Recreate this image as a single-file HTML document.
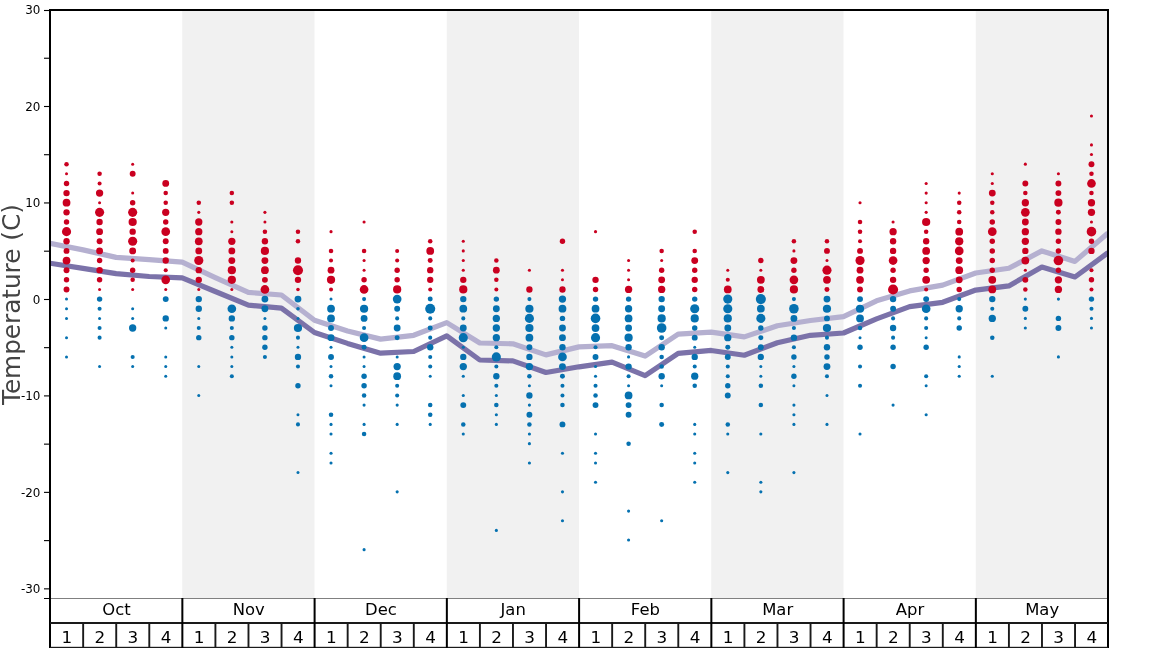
<!DOCTYPE html>
<html lang="en"><head><meta charset="utf-8"><title>Temperature chart</title>
<style>html,body{margin:0;padding:0;background:#fff;}body{width:1168px;height:648px;overflow:hidden;}svg{display:block;}text{font-family:"DejaVu Sans", "Liberation Sans", sans-serif;}</style></head><body>
<svg width="1168" height="648" viewBox="0 0 1168 648">
<rect x="0" y="0" width="1168" height="648" fill="#fff"/>
<g fill="#f1f1f1">
<rect x="182.25" y="10" width="132.25" height="588"/>
<rect x="446.75" y="10" width="132.25" height="588"/>
<rect x="711.25" y="10" width="132.25" height="588"/>
<rect x="975.75" y="10" width="132.25" height="588"/>
</g>
<clipPath id="ax"><rect x="50" y="10" width="1058" height="588.5"/></clipPath>
<polyline clip-path="url(#ax)" points="50.00,243.30 83.06,249.90 116.12,257.40 149.19,259.70 182.25,262.10 215.31,277.60 248.38,292.40 281.44,295.00 314.50,320.30 347.56,331.00 380.62,339.10 413.69,335.30 446.75,322.65 479.81,343.00 512.88,343.80 545.94,354.90 579.00,346.90 612.06,345.70 645.12,356.10 678.19,334.10 711.25,332.10 744.31,336.90 777.38,325.70 810.44,320.50 843.50,316.60 876.56,300.80 909.62,290.90 942.69,285.10 975.75,272.95 1008.81,268.30 1041.88,250.90 1074.94,261.40 1108.00,233.00" fill="none" stroke="#b5b0d0" stroke-width="5.2" stroke-linejoin="round" stroke-linecap="butt"/>
<polyline clip-path="url(#ax)" points="50.00,263.20 83.06,268.40 116.12,273.60 149.19,276.50 182.25,277.80 215.31,291.50 248.38,305.10 281.44,308.10 314.50,332.50 347.56,343.40 380.62,353.20 413.69,351.50 446.75,335.95 479.81,360.00 512.88,360.90 545.94,372.50 579.00,366.80 612.06,362.20 645.12,375.60 678.19,353.30 711.25,350.45 744.31,355.20 777.38,342.70 810.44,335.30 843.50,333.00 876.56,318.90 909.62,306.60 942.69,302.30 975.75,290.05 1008.81,285.90 1041.88,267.10 1074.94,277.00 1108.00,252.70" fill="none" stroke="#7b72a9" stroke-width="5.2" stroke-linejoin="round" stroke-linecap="butt"/>
<g fill="#ca0020"><circle cx="66.53" cy="164.18" r="2.26"/><circle cx="66.53" cy="173.81" r="1.50"/><circle cx="66.53" cy="183.45" r="2.72"/><circle cx="66.53" cy="193.09" r="3.18"/><circle cx="66.53" cy="202.73" r="3.88"/><circle cx="66.53" cy="212.36" r="3.18"/><circle cx="66.53" cy="222.00" r="2.72"/><circle cx="66.53" cy="231.64" r="4.57"/><circle cx="66.53" cy="241.28" r="3.18"/><circle cx="66.53" cy="250.91" r="2.95"/><circle cx="66.53" cy="260.55" r="3.88"/><circle cx="66.53" cy="270.19" r="2.95"/><circle cx="66.53" cy="279.83" r="2.72"/><circle cx="66.53" cy="289.46" r="2.95"/><circle cx="99.59" cy="173.81" r="2.26"/><circle cx="99.59" cy="183.45" r="2.03"/><circle cx="99.59" cy="193.09" r="3.65"/><circle cx="99.59" cy="202.73" r="1.50"/><circle cx="99.59" cy="212.36" r="4.57"/><circle cx="99.59" cy="222.00" r="3.18"/><circle cx="99.59" cy="231.64" r="3.42"/><circle cx="99.59" cy="241.28" r="2.95"/><circle cx="99.59" cy="250.91" r="3.42"/><circle cx="99.59" cy="260.55" r="2.72"/><circle cx="99.59" cy="270.19" r="3.18"/><circle cx="99.59" cy="279.83" r="2.72"/><circle cx="99.59" cy="289.46" r="1.50"/><circle cx="132.66" cy="164.18" r="1.50"/><circle cx="132.66" cy="173.81" r="2.95"/><circle cx="132.66" cy="193.09" r="1.50"/><circle cx="132.66" cy="202.73" r="2.72"/><circle cx="132.66" cy="212.36" r="4.57"/><circle cx="132.66" cy="222.00" r="4.11"/><circle cx="132.66" cy="231.64" r="3.18"/><circle cx="132.66" cy="241.28" r="4.57"/><circle cx="132.66" cy="250.91" r="3.42"/><circle cx="132.66" cy="260.55" r="2.03"/><circle cx="132.66" cy="270.19" r="2.72"/><circle cx="132.66" cy="279.83" r="2.26"/><circle cx="132.66" cy="289.46" r="1.50"/><circle cx="165.72" cy="183.45" r="3.42"/><circle cx="165.72" cy="193.09" r="2.26"/><circle cx="165.72" cy="202.73" r="2.26"/><circle cx="165.72" cy="212.36" r="3.65"/><circle cx="165.72" cy="222.00" r="2.72"/><circle cx="165.72" cy="231.64" r="4.34"/><circle cx="165.72" cy="241.28" r="2.95"/><circle cx="165.72" cy="250.91" r="2.95"/><circle cx="165.72" cy="260.55" r="3.18"/><circle cx="165.72" cy="270.19" r="2.03"/><circle cx="165.72" cy="279.83" r="4.34"/><circle cx="165.72" cy="289.46" r="1.50"/><circle cx="198.78" cy="202.73" r="2.26"/><circle cx="198.78" cy="212.36" r="1.56"/><circle cx="198.78" cy="222.00" r="3.65"/><circle cx="198.78" cy="231.64" r="3.65"/><circle cx="198.78" cy="241.28" r="3.88"/><circle cx="198.78" cy="250.91" r="3.42"/><circle cx="198.78" cy="260.55" r="4.57"/><circle cx="198.78" cy="270.19" r="3.18"/><circle cx="198.78" cy="279.83" r="3.18"/><circle cx="198.78" cy="289.46" r="1.50"/><circle cx="231.84" cy="193.09" r="2.26"/><circle cx="231.84" cy="202.73" r="2.26"/><circle cx="231.84" cy="222.00" r="1.56"/><circle cx="231.84" cy="231.64" r="1.50"/><circle cx="231.84" cy="241.28" r="3.65"/><circle cx="231.84" cy="250.91" r="3.42"/><circle cx="231.84" cy="260.55" r="3.42"/><circle cx="231.84" cy="270.19" r="4.11"/><circle cx="231.84" cy="279.83" r="4.11"/><circle cx="231.84" cy="289.46" r="1.50"/><circle cx="264.91" cy="212.36" r="1.56"/><circle cx="264.91" cy="222.00" r="1.50"/><circle cx="264.91" cy="231.64" r="2.26"/><circle cx="264.91" cy="241.28" r="3.18"/><circle cx="264.91" cy="250.91" r="4.11"/><circle cx="264.91" cy="260.55" r="3.42"/><circle cx="264.91" cy="270.19" r="3.88"/><circle cx="264.91" cy="279.83" r="2.95"/><circle cx="264.91" cy="289.46" r="4.34"/><circle cx="297.97" cy="231.64" r="2.26"/><circle cx="297.97" cy="241.28" r="2.26"/><circle cx="297.97" cy="260.55" r="3.18"/><circle cx="297.97" cy="270.19" r="5.04"/><circle cx="297.97" cy="279.83" r="3.18"/><circle cx="297.97" cy="289.46" r="1.80"/><circle cx="331.03" cy="231.64" r="1.56"/><circle cx="331.03" cy="250.91" r="2.26"/><circle cx="331.03" cy="260.55" r="2.03"/><circle cx="331.03" cy="270.19" r="3.42"/><circle cx="331.03" cy="279.83" r="4.11"/><circle cx="331.03" cy="289.46" r="2.03"/><circle cx="364.09" cy="222.00" r="1.56"/><circle cx="364.09" cy="250.91" r="2.26"/><circle cx="364.09" cy="260.55" r="1.56"/><circle cx="364.09" cy="270.19" r="1.50"/><circle cx="364.09" cy="279.83" r="2.72"/><circle cx="364.09" cy="289.46" r="4.34"/><circle cx="397.16" cy="250.91" r="2.03"/><circle cx="397.16" cy="260.55" r="2.03"/><circle cx="397.16" cy="270.19" r="2.72"/><circle cx="397.16" cy="279.83" r="2.72"/><circle cx="397.16" cy="289.46" r="4.11"/><circle cx="430.22" cy="241.28" r="2.26"/><circle cx="430.22" cy="250.91" r="3.88"/><circle cx="430.22" cy="260.55" r="2.49"/><circle cx="430.22" cy="270.19" r="3.18"/><circle cx="430.22" cy="279.83" r="3.18"/><circle cx="430.22" cy="289.46" r="2.03"/><circle cx="463.28" cy="241.28" r="1.56"/><circle cx="463.28" cy="250.91" r="1.56"/><circle cx="463.28" cy="260.55" r="1.56"/><circle cx="463.28" cy="270.19" r="1.56"/><circle cx="463.28" cy="279.83" r="3.18"/><circle cx="463.28" cy="289.46" r="4.11"/><circle cx="496.34" cy="260.55" r="2.26"/><circle cx="496.34" cy="270.19" r="3.42"/><circle cx="496.34" cy="279.83" r="2.26"/><circle cx="496.34" cy="289.46" r="2.03"/><circle cx="529.41" cy="270.19" r="1.56"/><circle cx="529.41" cy="289.46" r="3.18"/><circle cx="562.47" cy="241.28" r="2.72"/><circle cx="562.47" cy="270.19" r="1.56"/><circle cx="562.47" cy="279.83" r="1.50"/><circle cx="562.47" cy="289.46" r="3.18"/><circle cx="595.53" cy="231.64" r="1.56"/><circle cx="595.53" cy="279.83" r="3.18"/><circle cx="595.53" cy="289.46" r="2.72"/><circle cx="628.59" cy="260.55" r="1.56"/><circle cx="628.59" cy="270.19" r="1.50"/><circle cx="628.59" cy="279.83" r="1.50"/><circle cx="628.59" cy="289.46" r="3.65"/><circle cx="661.66" cy="250.91" r="2.26"/><circle cx="661.66" cy="260.55" r="1.50"/><circle cx="661.66" cy="270.19" r="2.72"/><circle cx="661.66" cy="279.83" r="3.42"/><circle cx="661.66" cy="289.46" r="3.65"/><circle cx="694.72" cy="231.64" r="2.26"/><circle cx="694.72" cy="250.91" r="2.26"/><circle cx="694.72" cy="260.55" r="3.42"/><circle cx="694.72" cy="270.19" r="2.72"/><circle cx="694.72" cy="279.83" r="3.18"/><circle cx="694.72" cy="289.46" r="2.72"/><circle cx="727.78" cy="270.19" r="1.50"/><circle cx="727.78" cy="279.83" r="2.03"/><circle cx="727.78" cy="289.46" r="3.88"/><circle cx="760.84" cy="260.55" r="2.72"/><circle cx="760.84" cy="270.19" r="1.50"/><circle cx="760.84" cy="279.83" r="3.88"/><circle cx="760.84" cy="289.46" r="3.42"/><circle cx="793.91" cy="241.28" r="2.26"/><circle cx="793.91" cy="250.91" r="1.56"/><circle cx="793.91" cy="260.55" r="3.42"/><circle cx="793.91" cy="270.19" r="2.72"/><circle cx="793.91" cy="279.83" r="4.34"/><circle cx="793.91" cy="289.46" r="4.11"/><circle cx="826.97" cy="241.28" r="2.26"/><circle cx="826.97" cy="250.91" r="2.95"/><circle cx="826.97" cy="260.55" r="1.50"/><circle cx="826.97" cy="270.19" r="4.57"/><circle cx="826.97" cy="279.83" r="3.88"/><circle cx="826.97" cy="289.46" r="2.49"/><circle cx="860.03" cy="202.73" r="1.56"/><circle cx="860.03" cy="222.00" r="2.26"/><circle cx="860.03" cy="231.64" r="2.26"/><circle cx="860.03" cy="241.28" r="2.03"/><circle cx="860.03" cy="250.91" r="2.95"/><circle cx="860.03" cy="260.55" r="4.57"/><circle cx="860.03" cy="270.19" r="3.42"/><circle cx="860.03" cy="279.83" r="3.88"/><circle cx="860.03" cy="289.46" r="2.95"/><circle cx="893.09" cy="222.00" r="1.56"/><circle cx="893.09" cy="231.64" r="3.65"/><circle cx="893.09" cy="241.28" r="3.18"/><circle cx="893.09" cy="250.91" r="3.18"/><circle cx="893.09" cy="260.55" r="4.34"/><circle cx="893.09" cy="270.19" r="2.72"/><circle cx="893.09" cy="279.83" r="3.18"/><circle cx="893.09" cy="289.46" r="5.04"/><circle cx="926.16" cy="183.45" r="1.56"/><circle cx="926.16" cy="193.09" r="1.56"/><circle cx="926.16" cy="202.73" r="1.56"/><circle cx="926.16" cy="212.36" r="1.56"/><circle cx="926.16" cy="222.00" r="4.11"/><circle cx="926.16" cy="231.64" r="2.26"/><circle cx="926.16" cy="241.28" r="3.18"/><circle cx="926.16" cy="250.91" r="3.88"/><circle cx="926.16" cy="260.55" r="3.65"/><circle cx="926.16" cy="270.19" r="2.72"/><circle cx="926.16" cy="279.83" r="3.88"/><circle cx="926.16" cy="289.46" r="2.03"/><circle cx="959.22" cy="193.09" r="1.56"/><circle cx="959.22" cy="202.73" r="2.26"/><circle cx="959.22" cy="212.36" r="2.26"/><circle cx="959.22" cy="222.00" r="2.26"/><circle cx="959.22" cy="231.64" r="3.88"/><circle cx="959.22" cy="241.28" r="4.11"/><circle cx="959.22" cy="250.91" r="4.34"/><circle cx="959.22" cy="260.55" r="3.42"/><circle cx="959.22" cy="270.19" r="3.88"/><circle cx="959.22" cy="279.83" r="3.42"/><circle cx="959.22" cy="289.46" r="2.72"/><circle cx="992.28" cy="173.81" r="1.56"/><circle cx="992.28" cy="183.45" r="1.56"/><circle cx="992.28" cy="193.09" r="3.42"/><circle cx="992.28" cy="202.73" r="2.26"/><circle cx="992.28" cy="212.36" r="2.26"/><circle cx="992.28" cy="222.00" r="2.72"/><circle cx="992.28" cy="231.64" r="4.34"/><circle cx="992.28" cy="241.28" r="2.72"/><circle cx="992.28" cy="250.91" r="2.72"/><circle cx="992.28" cy="260.55" r="2.72"/><circle cx="992.28" cy="270.19" r="2.72"/><circle cx="992.28" cy="279.83" r="3.88"/><circle cx="992.28" cy="289.46" r="3.88"/><circle cx="1025.34" cy="164.18" r="1.56"/><circle cx="1025.34" cy="183.45" r="2.95"/><circle cx="1025.34" cy="193.09" r="2.26"/><circle cx="1025.34" cy="202.73" r="3.65"/><circle cx="1025.34" cy="212.36" r="4.34"/><circle cx="1025.34" cy="222.00" r="3.42"/><circle cx="1025.34" cy="231.64" r="3.65"/><circle cx="1025.34" cy="241.28" r="3.65"/><circle cx="1025.34" cy="250.91" r="3.18"/><circle cx="1025.34" cy="260.55" r="3.88"/><circle cx="1025.34" cy="270.19" r="1.56"/><circle cx="1025.34" cy="279.83" r="2.95"/><circle cx="1025.34" cy="289.46" r="2.26"/><circle cx="1058.41" cy="173.81" r="1.56"/><circle cx="1058.41" cy="183.45" r="2.95"/><circle cx="1058.41" cy="193.09" r="2.95"/><circle cx="1058.41" cy="202.73" r="4.11"/><circle cx="1058.41" cy="212.36" r="2.49"/><circle cx="1058.41" cy="222.00" r="2.95"/><circle cx="1058.41" cy="231.64" r="3.18"/><circle cx="1058.41" cy="241.28" r="2.72"/><circle cx="1058.41" cy="250.91" r="2.72"/><circle cx="1058.41" cy="260.55" r="4.80"/><circle cx="1058.41" cy="270.19" r="2.72"/><circle cx="1058.41" cy="279.83" r="3.65"/><circle cx="1058.41" cy="289.46" r="3.65"/><circle cx="1091.47" cy="115.99" r="1.56"/><circle cx="1091.47" cy="144.90" r="1.56"/><circle cx="1091.47" cy="154.54" r="1.56"/><circle cx="1091.47" cy="164.18" r="2.95"/><circle cx="1091.47" cy="173.81" r="2.26"/><circle cx="1091.47" cy="183.45" r="4.34"/><circle cx="1091.47" cy="193.09" r="2.26"/><circle cx="1091.47" cy="202.73" r="3.65"/><circle cx="1091.47" cy="212.36" r="3.65"/><circle cx="1091.47" cy="222.00" r="1.56"/><circle cx="1091.47" cy="231.64" r="4.80"/><circle cx="1091.47" cy="241.28" r="2.72"/><circle cx="1091.47" cy="250.91" r="3.18"/><circle cx="1091.47" cy="270.19" r="2.03"/><circle cx="1091.47" cy="279.83" r="2.72"/><circle cx="1091.47" cy="289.46" r="2.03"/></g>
<g fill="#0571b0"><circle cx="66.53" cy="299.10" r="1.50"/><circle cx="66.53" cy="308.74" r="1.50"/><circle cx="66.53" cy="318.38" r="1.50"/><circle cx="66.53" cy="337.65" r="1.50"/><circle cx="66.53" cy="356.93" r="1.50"/><circle cx="99.59" cy="299.10" r="2.72"/><circle cx="99.59" cy="308.74" r="2.03"/><circle cx="99.59" cy="318.38" r="1.50"/><circle cx="99.59" cy="328.01" r="2.03"/><circle cx="99.59" cy="337.65" r="2.03"/><circle cx="99.59" cy="366.56" r="1.50"/><circle cx="132.66" cy="308.74" r="1.50"/><circle cx="132.66" cy="318.38" r="1.50"/><circle cx="132.66" cy="328.01" r="3.65"/><circle cx="132.66" cy="356.93" r="2.03"/><circle cx="132.66" cy="366.56" r="1.50"/><circle cx="165.72" cy="299.10" r="2.95"/><circle cx="165.72" cy="318.38" r="3.18"/><circle cx="165.72" cy="328.01" r="1.50"/><circle cx="165.72" cy="356.93" r="1.50"/><circle cx="165.72" cy="366.56" r="1.50"/><circle cx="165.72" cy="376.20" r="1.50"/><circle cx="198.78" cy="299.10" r="3.18"/><circle cx="198.78" cy="308.74" r="3.18"/><circle cx="198.78" cy="318.38" r="1.50"/><circle cx="198.78" cy="328.01" r="2.03"/><circle cx="198.78" cy="337.65" r="2.72"/><circle cx="198.78" cy="366.56" r="1.50"/><circle cx="198.78" cy="395.48" r="1.50"/><circle cx="231.84" cy="308.74" r="4.34"/><circle cx="231.84" cy="318.38" r="3.18"/><circle cx="231.84" cy="328.01" r="2.03"/><circle cx="231.84" cy="337.65" r="2.72"/><circle cx="231.84" cy="347.29" r="1.50"/><circle cx="231.84" cy="356.93" r="1.50"/><circle cx="231.84" cy="366.56" r="1.50"/><circle cx="231.84" cy="376.20" r="2.03"/><circle cx="264.91" cy="299.10" r="3.42"/><circle cx="264.91" cy="308.74" r="3.42"/><circle cx="264.91" cy="318.38" r="1.50"/><circle cx="264.91" cy="328.01" r="2.72"/><circle cx="264.91" cy="337.65" r="2.72"/><circle cx="264.91" cy="347.29" r="2.72"/><circle cx="264.91" cy="356.93" r="2.03"/><circle cx="297.97" cy="299.10" r="3.42"/><circle cx="297.97" cy="308.74" r="1.80"/><circle cx="297.97" cy="318.38" r="1.50"/><circle cx="297.97" cy="328.01" r="4.11"/><circle cx="297.97" cy="337.65" r="2.03"/><circle cx="297.97" cy="347.29" r="1.50"/><circle cx="297.97" cy="356.93" r="3.18"/><circle cx="297.97" cy="366.56" r="2.03"/><circle cx="297.97" cy="385.84" r="2.72"/><circle cx="297.97" cy="414.75" r="1.50"/><circle cx="297.97" cy="424.39" r="2.03"/><circle cx="297.97" cy="472.58" r="1.50"/><circle cx="331.03" cy="299.10" r="1.50"/><circle cx="331.03" cy="308.74" r="3.88"/><circle cx="331.03" cy="318.38" r="3.88"/><circle cx="331.03" cy="328.01" r="2.95"/><circle cx="331.03" cy="337.65" r="3.42"/><circle cx="331.03" cy="347.29" r="1.50"/><circle cx="331.03" cy="356.93" r="2.95"/><circle cx="331.03" cy="366.56" r="1.50"/><circle cx="331.03" cy="376.20" r="2.26"/><circle cx="331.03" cy="385.84" r="1.50"/><circle cx="331.03" cy="414.75" r="2.26"/><circle cx="331.03" cy="424.39" r="1.56"/><circle cx="331.03" cy="434.02" r="1.56"/><circle cx="331.03" cy="453.30" r="1.56"/><circle cx="331.03" cy="462.94" r="1.56"/><circle cx="364.09" cy="299.10" r="2.03"/><circle cx="364.09" cy="308.74" r="4.11"/><circle cx="364.09" cy="318.38" r="3.42"/><circle cx="364.09" cy="328.01" r="2.03"/><circle cx="364.09" cy="337.65" r="4.34"/><circle cx="364.09" cy="347.29" r="2.49"/><circle cx="364.09" cy="356.93" r="1.50"/><circle cx="364.09" cy="366.56" r="1.50"/><circle cx="364.09" cy="376.20" r="2.72"/><circle cx="364.09" cy="385.84" r="2.72"/><circle cx="364.09" cy="395.48" r="2.26"/><circle cx="364.09" cy="405.11" r="1.56"/><circle cx="364.09" cy="424.39" r="1.56"/><circle cx="364.09" cy="434.02" r="2.26"/><circle cx="364.09" cy="549.67" r="1.56"/><circle cx="397.16" cy="299.10" r="4.34"/><circle cx="397.16" cy="308.74" r="2.95"/><circle cx="397.16" cy="318.38" r="2.03"/><circle cx="397.16" cy="328.01" r="3.42"/><circle cx="397.16" cy="337.65" r="2.49"/><circle cx="397.16" cy="356.93" r="1.50"/><circle cx="397.16" cy="366.56" r="3.65"/><circle cx="397.16" cy="376.20" r="3.88"/><circle cx="397.16" cy="385.84" r="2.03"/><circle cx="397.16" cy="395.48" r="2.03"/><circle cx="397.16" cy="405.11" r="1.56"/><circle cx="397.16" cy="424.39" r="1.56"/><circle cx="397.16" cy="491.85" r="1.56"/><circle cx="430.22" cy="299.10" r="2.49"/><circle cx="430.22" cy="308.74" r="5.04"/><circle cx="430.22" cy="318.38" r="2.03"/><circle cx="430.22" cy="328.01" r="2.49"/><circle cx="430.22" cy="337.65" r="2.03"/><circle cx="430.22" cy="347.29" r="3.18"/><circle cx="430.22" cy="356.93" r="2.03"/><circle cx="430.22" cy="366.56" r="2.03"/><circle cx="430.22" cy="376.20" r="1.50"/><circle cx="430.22" cy="405.11" r="2.26"/><circle cx="430.22" cy="414.75" r="2.26"/><circle cx="430.22" cy="424.39" r="1.56"/><circle cx="463.28" cy="299.10" r="3.18"/><circle cx="463.28" cy="308.74" r="3.88"/><circle cx="463.28" cy="318.38" r="2.03"/><circle cx="463.28" cy="328.01" r="3.42"/><circle cx="463.28" cy="337.65" r="4.57"/><circle cx="463.28" cy="347.29" r="1.56"/><circle cx="463.28" cy="356.93" r="3.18"/><circle cx="463.28" cy="366.56" r="3.65"/><circle cx="463.28" cy="376.20" r="1.56"/><circle cx="463.28" cy="395.48" r="1.56"/><circle cx="463.28" cy="405.11" r="2.95"/><circle cx="463.28" cy="424.39" r="2.26"/><circle cx="463.28" cy="434.02" r="1.56"/><circle cx="496.34" cy="299.10" r="2.72"/><circle cx="496.34" cy="308.74" r="3.42"/><circle cx="496.34" cy="318.38" r="3.65"/><circle cx="496.34" cy="328.01" r="3.65"/><circle cx="496.34" cy="337.65" r="3.65"/><circle cx="496.34" cy="347.29" r="2.03"/><circle cx="496.34" cy="356.93" r="4.57"/><circle cx="496.34" cy="366.56" r="2.03"/><circle cx="496.34" cy="376.20" r="3.18"/><circle cx="496.34" cy="385.84" r="2.03"/><circle cx="496.34" cy="395.48" r="1.56"/><circle cx="496.34" cy="405.11" r="2.26"/><circle cx="496.34" cy="414.75" r="1.56"/><circle cx="496.34" cy="424.39" r="1.56"/><circle cx="496.34" cy="530.40" r="1.56"/><circle cx="529.41" cy="299.10" r="2.03"/><circle cx="529.41" cy="308.74" r="4.11"/><circle cx="529.41" cy="318.38" r="4.57"/><circle cx="529.41" cy="328.01" r="4.11"/><circle cx="529.41" cy="337.65" r="3.88"/><circle cx="529.41" cy="347.29" r="2.95"/><circle cx="529.41" cy="356.93" r="3.18"/><circle cx="529.41" cy="366.56" r="3.65"/><circle cx="529.41" cy="376.20" r="2.26"/><circle cx="529.41" cy="385.84" r="1.50"/><circle cx="529.41" cy="395.48" r="3.18"/><circle cx="529.41" cy="405.11" r="1.56"/><circle cx="529.41" cy="414.75" r="2.95"/><circle cx="529.41" cy="424.39" r="2.26"/><circle cx="529.41" cy="434.02" r="1.56"/><circle cx="529.41" cy="443.66" r="1.56"/><circle cx="529.41" cy="462.94" r="1.56"/><circle cx="562.47" cy="299.10" r="3.65"/><circle cx="562.47" cy="308.74" r="3.88"/><circle cx="562.47" cy="318.38" r="2.72"/><circle cx="562.47" cy="328.01" r="3.42"/><circle cx="562.47" cy="337.65" r="3.42"/><circle cx="562.47" cy="347.29" r="3.18"/><circle cx="562.47" cy="356.93" r="4.34"/><circle cx="562.47" cy="366.56" r="3.42"/><circle cx="562.47" cy="376.20" r="2.49"/><circle cx="562.47" cy="385.84" r="2.03"/><circle cx="562.47" cy="395.48" r="2.03"/><circle cx="562.47" cy="405.11" r="2.26"/><circle cx="562.47" cy="424.39" r="2.95"/><circle cx="562.47" cy="453.30" r="1.56"/><circle cx="562.47" cy="491.85" r="1.56"/><circle cx="562.47" cy="520.76" r="1.56"/><circle cx="595.53" cy="299.10" r="2.72"/><circle cx="595.53" cy="308.74" r="3.88"/><circle cx="595.53" cy="318.38" r="4.80"/><circle cx="595.53" cy="328.01" r="3.88"/><circle cx="595.53" cy="337.65" r="4.57"/><circle cx="595.53" cy="347.29" r="2.03"/><circle cx="595.53" cy="356.93" r="2.95"/><circle cx="595.53" cy="366.56" r="1.56"/><circle cx="595.53" cy="376.20" r="1.56"/><circle cx="595.53" cy="385.84" r="2.03"/><circle cx="595.53" cy="395.48" r="2.26"/><circle cx="595.53" cy="405.11" r="2.95"/><circle cx="595.53" cy="434.02" r="1.56"/><circle cx="595.53" cy="453.30" r="1.56"/><circle cx="595.53" cy="462.94" r="1.56"/><circle cx="595.53" cy="482.21" r="1.56"/><circle cx="628.59" cy="299.10" r="2.72"/><circle cx="628.59" cy="308.74" r="3.65"/><circle cx="628.59" cy="318.38" r="3.88"/><circle cx="628.59" cy="328.01" r="3.42"/><circle cx="628.59" cy="337.65" r="4.11"/><circle cx="628.59" cy="347.29" r="3.18"/><circle cx="628.59" cy="356.93" r="1.56"/><circle cx="628.59" cy="366.56" r="3.18"/><circle cx="628.59" cy="376.20" r="2.03"/><circle cx="628.59" cy="385.84" r="1.50"/><circle cx="628.59" cy="395.48" r="3.88"/><circle cx="628.59" cy="405.11" r="2.95"/><circle cx="628.59" cy="414.75" r="2.95"/><circle cx="628.59" cy="443.66" r="2.26"/><circle cx="628.59" cy="511.12" r="1.56"/><circle cx="628.59" cy="540.04" r="1.56"/><circle cx="661.66" cy="299.10" r="3.18"/><circle cx="661.66" cy="308.74" r="3.42"/><circle cx="661.66" cy="318.38" r="4.11"/><circle cx="661.66" cy="328.01" r="4.80"/><circle cx="661.66" cy="337.65" r="2.49"/><circle cx="661.66" cy="347.29" r="3.18"/><circle cx="661.66" cy="356.93" r="2.26"/><circle cx="661.66" cy="366.56" r="2.26"/><circle cx="661.66" cy="376.20" r="3.18"/><circle cx="661.66" cy="385.84" r="1.50"/><circle cx="661.66" cy="405.11" r="2.26"/><circle cx="661.66" cy="424.39" r="2.49"/><circle cx="661.66" cy="520.76" r="1.56"/><circle cx="694.72" cy="299.10" r="2.72"/><circle cx="694.72" cy="308.74" r="4.57"/><circle cx="694.72" cy="318.38" r="4.11"/><circle cx="694.72" cy="328.01" r="2.72"/><circle cx="694.72" cy="337.65" r="2.95"/><circle cx="694.72" cy="347.29" r="1.50"/><circle cx="694.72" cy="356.93" r="3.18"/><circle cx="694.72" cy="366.56" r="2.03"/><circle cx="694.72" cy="376.20" r="3.65"/><circle cx="694.72" cy="385.84" r="2.26"/><circle cx="694.72" cy="424.39" r="1.56"/><circle cx="694.72" cy="434.02" r="1.56"/><circle cx="694.72" cy="453.30" r="1.56"/><circle cx="694.72" cy="462.94" r="1.56"/><circle cx="694.72" cy="482.21" r="1.56"/><circle cx="727.78" cy="299.10" r="4.57"/><circle cx="727.78" cy="308.74" r="4.57"/><circle cx="727.78" cy="318.38" r="4.11"/><circle cx="727.78" cy="328.01" r="3.42"/><circle cx="727.78" cy="337.65" r="3.65"/><circle cx="727.78" cy="347.29" r="2.49"/><circle cx="727.78" cy="356.93" r="2.95"/><circle cx="727.78" cy="366.56" r="2.03"/><circle cx="727.78" cy="376.20" r="2.03"/><circle cx="727.78" cy="385.84" r="2.72"/><circle cx="727.78" cy="395.48" r="2.95"/><circle cx="727.78" cy="424.39" r="2.26"/><circle cx="727.78" cy="434.02" r="1.56"/><circle cx="727.78" cy="472.58" r="1.56"/><circle cx="760.84" cy="299.10" r="5.04"/><circle cx="760.84" cy="308.74" r="3.88"/><circle cx="760.84" cy="318.38" r="4.57"/><circle cx="760.84" cy="328.01" r="2.72"/><circle cx="760.84" cy="337.65" r="2.49"/><circle cx="760.84" cy="347.29" r="2.95"/><circle cx="760.84" cy="356.93" r="3.18"/><circle cx="760.84" cy="366.56" r="1.50"/><circle cx="760.84" cy="376.20" r="1.50"/><circle cx="760.84" cy="385.84" r="2.26"/><circle cx="760.84" cy="405.11" r="2.26"/><circle cx="760.84" cy="434.02" r="1.56"/><circle cx="760.84" cy="482.21" r="1.56"/><circle cx="760.84" cy="491.85" r="1.56"/><circle cx="793.91" cy="299.10" r="2.03"/><circle cx="793.91" cy="308.74" r="4.80"/><circle cx="793.91" cy="318.38" r="3.42"/><circle cx="793.91" cy="328.01" r="2.03"/><circle cx="793.91" cy="337.65" r="3.18"/><circle cx="793.91" cy="347.29" r="2.03"/><circle cx="793.91" cy="356.93" r="2.72"/><circle cx="793.91" cy="366.56" r="1.56"/><circle cx="793.91" cy="376.20" r="2.72"/><circle cx="793.91" cy="385.84" r="1.50"/><circle cx="793.91" cy="405.11" r="1.56"/><circle cx="793.91" cy="414.75" r="1.56"/><circle cx="793.91" cy="424.39" r="1.56"/><circle cx="793.91" cy="472.58" r="1.56"/><circle cx="826.97" cy="299.10" r="3.42"/><circle cx="826.97" cy="308.74" r="4.11"/><circle cx="826.97" cy="318.38" r="2.95"/><circle cx="826.97" cy="328.01" r="4.11"/><circle cx="826.97" cy="337.65" r="2.03"/><circle cx="826.97" cy="347.29" r="3.18"/><circle cx="826.97" cy="356.93" r="2.72"/><circle cx="826.97" cy="366.56" r="3.42"/><circle cx="826.97" cy="376.20" r="2.03"/><circle cx="826.97" cy="395.48" r="1.50"/><circle cx="826.97" cy="424.39" r="1.56"/><circle cx="860.03" cy="299.10" r="2.95"/><circle cx="860.03" cy="308.74" r="4.11"/><circle cx="860.03" cy="318.38" r="3.88"/><circle cx="860.03" cy="328.01" r="2.26"/><circle cx="860.03" cy="337.65" r="1.50"/><circle cx="860.03" cy="347.29" r="2.72"/><circle cx="860.03" cy="366.56" r="2.03"/><circle cx="860.03" cy="385.84" r="2.03"/><circle cx="860.03" cy="434.02" r="1.56"/><circle cx="893.09" cy="299.10" r="3.18"/><circle cx="893.09" cy="308.74" r="2.95"/><circle cx="893.09" cy="318.38" r="2.03"/><circle cx="893.09" cy="328.01" r="3.18"/><circle cx="893.09" cy="337.65" r="2.03"/><circle cx="893.09" cy="347.29" r="2.72"/><circle cx="893.09" cy="366.56" r="2.72"/><circle cx="893.09" cy="405.11" r="1.56"/><circle cx="926.16" cy="299.10" r="2.95"/><circle cx="926.16" cy="308.74" r="4.34"/><circle cx="926.16" cy="318.38" r="2.03"/><circle cx="926.16" cy="328.01" r="2.03"/><circle cx="926.16" cy="337.65" r="1.50"/><circle cx="926.16" cy="347.29" r="2.72"/><circle cx="926.16" cy="376.20" r="2.03"/><circle cx="926.16" cy="385.84" r="1.50"/><circle cx="926.16" cy="414.75" r="1.56"/><circle cx="959.22" cy="299.10" r="2.03"/><circle cx="959.22" cy="308.74" r="3.65"/><circle cx="959.22" cy="318.38" r="2.03"/><circle cx="959.22" cy="328.01" r="2.72"/><circle cx="959.22" cy="356.93" r="1.56"/><circle cx="959.22" cy="366.56" r="1.56"/><circle cx="959.22" cy="376.20" r="1.56"/><circle cx="992.28" cy="299.10" r="3.18"/><circle cx="992.28" cy="308.74" r="2.03"/><circle cx="992.28" cy="318.38" r="3.65"/><circle cx="992.28" cy="337.65" r="2.26"/><circle cx="992.28" cy="376.20" r="1.56"/><circle cx="1025.34" cy="299.10" r="1.56"/><circle cx="1025.34" cy="308.74" r="2.95"/><circle cx="1025.34" cy="318.38" r="1.56"/><circle cx="1025.34" cy="328.01" r="1.56"/><circle cx="1058.41" cy="299.10" r="1.56"/><circle cx="1058.41" cy="318.38" r="2.72"/><circle cx="1058.41" cy="328.01" r="2.95"/><circle cx="1058.41" cy="356.93" r="1.56"/><circle cx="1091.47" cy="299.10" r="2.72"/><circle cx="1091.47" cy="308.74" r="2.03"/><circle cx="1091.47" cy="318.38" r="1.56"/><circle cx="1091.47" cy="328.01" r="1.56"/></g>
<rect x="50" y="598" width="1058" height="1" fill="#808080"/>
<g fill="#000">
<rect x="49" y="9" width="1060" height="2"/>
<rect x="49" y="9" width="2" height="639"/>
<rect x="1107" y="9" width="2" height="639"/>
<rect x="44" y="9.95" width="5" height="1.1"/>
<rect x="44" y="57.69" width="5" height="1.1"/>
<rect x="44" y="105.95" width="5" height="1.1"/>
<rect x="44" y="154.16" width="5" height="1.1"/>
<rect x="44" y="202.40" width="5" height="1.1"/>
<rect x="44" y="250.64" width="5" height="1.1"/>
<rect x="44" y="298.95" width="5" height="1.1"/>
<rect x="44" y="347.11" width="5" height="1.1"/>
<rect x="44" y="395.35" width="5" height="1.1"/>
<rect x="44" y="443.59" width="5" height="1.1"/>
<rect x="44" y="491.82" width="5" height="1.1"/>
<rect x="44" y="540.06" width="5" height="1.1"/>
<rect x="44" y="588.30" width="5" height="1.1"/>
<rect x="44" y="598" width="5" height="1"/>
</g>
<g font-size="12.5" text-anchor="end" fill="#000">
<text transform="translate(40.4,14.00) scale(0.955,1)">30</text>
<text transform="translate(40.4,111.00) scale(0.955,1)">20</text>
<text transform="translate(40.4,207.00) scale(0.955,1)">10</text>
<text transform="translate(40.4,304.00) scale(0.955,1)">0</text>
<text transform="translate(40.4,400.00) scale(0.955,1)">-10</text>
<text transform="translate(40.4,497.00) scale(0.955,1)">-20</text>
<text transform="translate(40.4,593.00) scale(0.955,1)">-30</text>
</g>
<text transform="translate(19.5,304.6) rotate(-90) scale(1.029,1)" font-size="24" text-anchor="middle" fill="#444">Temperature (C)</text>
<g fill="#1a1a1a">
<rect x="50" y="622" width="1058" height="2"/>
<rect x="50" y="646.8" width="1058" height="1.2"/>
<rect x="181.35" y="598" width="2" height="50" fill="#000"/>
<rect x="313.60" y="598" width="2" height="50" fill="#000"/>
<rect x="445.85" y="598" width="2" height="50" fill="#000"/>
<rect x="578.10" y="598" width="2" height="50" fill="#000"/>
<rect x="710.35" y="598" width="2" height="50" fill="#000"/>
<rect x="842.60" y="598" width="2" height="50" fill="#000"/>
<rect x="974.85" y="598" width="2" height="50" fill="#000"/>
<rect x="82.21" y="623" width="1.9" height="25"/>
<rect x="115.28" y="623" width="1.9" height="25"/>
<rect x="148.34" y="623" width="1.9" height="25"/>
<rect x="214.46" y="623" width="1.9" height="25"/>
<rect x="247.53" y="623" width="1.9" height="25"/>
<rect x="280.59" y="623" width="1.9" height="25"/>
<rect x="346.71" y="623" width="1.9" height="25"/>
<rect x="379.77" y="623" width="1.9" height="25"/>
<rect x="412.84" y="623" width="1.9" height="25"/>
<rect x="478.96" y="623" width="1.9" height="25"/>
<rect x="512.02" y="623" width="1.9" height="25"/>
<rect x="545.09" y="623" width="1.9" height="25"/>
<rect x="611.21" y="623" width="1.9" height="25"/>
<rect x="644.27" y="623" width="1.9" height="25"/>
<rect x="677.34" y="623" width="1.9" height="25"/>
<rect x="743.46" y="623" width="1.9" height="25"/>
<rect x="776.52" y="623" width="1.9" height="25"/>
<rect x="809.59" y="623" width="1.9" height="25"/>
<rect x="875.71" y="623" width="1.9" height="25"/>
<rect x="908.77" y="623" width="1.9" height="25"/>
<rect x="941.84" y="623" width="1.9" height="25"/>
<rect x="1007.96" y="623" width="1.9" height="25"/>
<rect x="1041.03" y="623" width="1.9" height="25"/>
<rect x="1074.09" y="623" width="1.9" height="25"/>
</g>
<g font-size="15.3" text-anchor="middle" fill="#000">
<text transform="translate(116.42,614.8) scale(1.075,1)">Oct</text>
<text transform="translate(248.68,614.8) scale(1.075,1)">Nov</text>
<text transform="translate(380.93,614.8) scale(1.075,1)">Dec</text>
<text transform="translate(513.17,614.8) scale(1.075,1)">Jan</text>
<text transform="translate(645.42,614.8) scale(1.075,1)">Feb</text>
<text transform="translate(777.67,614.8) scale(1.075,1)">Mar</text>
<text transform="translate(909.92,614.8) scale(1.075,1)">Apr</text>
<text transform="translate(1042.17,614.8) scale(1.075,1)">May</text>
<text transform="translate(66.83,642.7) scale(1.1,1)">1</text>
<text transform="translate(99.89,642.7) scale(1.1,1)">2</text>
<text transform="translate(132.96,642.7) scale(1.1,1)">3</text>
<text transform="translate(166.02,642.7) scale(1.1,1)">4</text>
<text transform="translate(199.08,642.7) scale(1.1,1)">1</text>
<text transform="translate(232.14,642.7) scale(1.1,1)">2</text>
<text transform="translate(265.21,642.7) scale(1.1,1)">3</text>
<text transform="translate(298.27,642.7) scale(1.1,1)">4</text>
<text transform="translate(331.33,642.7) scale(1.1,1)">1</text>
<text transform="translate(364.39,642.7) scale(1.1,1)">2</text>
<text transform="translate(397.46,642.7) scale(1.1,1)">3</text>
<text transform="translate(430.52,642.7) scale(1.1,1)">4</text>
<text transform="translate(463.58,642.7) scale(1.1,1)">1</text>
<text transform="translate(496.64,642.7) scale(1.1,1)">2</text>
<text transform="translate(529.71,642.7) scale(1.1,1)">3</text>
<text transform="translate(562.77,642.7) scale(1.1,1)">4</text>
<text transform="translate(595.83,642.7) scale(1.1,1)">1</text>
<text transform="translate(628.89,642.7) scale(1.1,1)">2</text>
<text transform="translate(661.96,642.7) scale(1.1,1)">3</text>
<text transform="translate(695.02,642.7) scale(1.1,1)">4</text>
<text transform="translate(728.08,642.7) scale(1.1,1)">1</text>
<text transform="translate(761.14,642.7) scale(1.1,1)">2</text>
<text transform="translate(794.21,642.7) scale(1.1,1)">3</text>
<text transform="translate(827.27,642.7) scale(1.1,1)">4</text>
<text transform="translate(860.33,642.7) scale(1.1,1)">1</text>
<text transform="translate(893.39,642.7) scale(1.1,1)">2</text>
<text transform="translate(926.46,642.7) scale(1.1,1)">3</text>
<text transform="translate(959.52,642.7) scale(1.1,1)">4</text>
<text transform="translate(992.58,642.7) scale(1.1,1)">1</text>
<text transform="translate(1025.64,642.7) scale(1.1,1)">2</text>
<text transform="translate(1058.71,642.7) scale(1.1,1)">3</text>
<text transform="translate(1091.77,642.7) scale(1.1,1)">4</text>
</g>
</svg></body></html>
